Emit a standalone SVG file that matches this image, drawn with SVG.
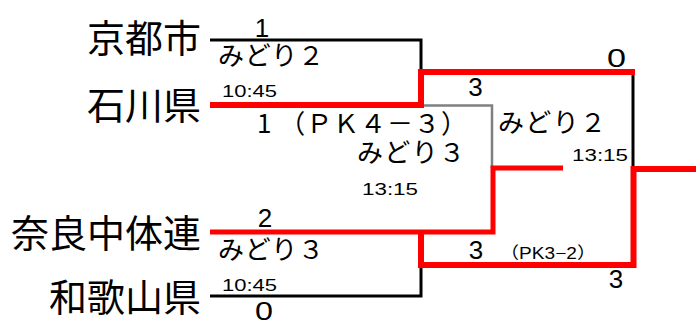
<svg xmlns="http://www.w3.org/2000/svg" width="696" height="322" viewBox="0 0 696 322">
<style>
.team{font-family:"Noto Sans CJK JP","Liberation Sans",sans-serif;font-size:38px;fill:#000;text-anchor:end}
.lbl{font-family:"Noto Sans CJK JP","Liberation Sans",sans-serif;font-size:26px;fill:#000}
.sc{font-family:"Liberation Sans","Noto Sans CJK JP",sans-serif;font-size:26px;fill:#000;text-anchor:middle}
.tm{font-family:"Liberation Sans","Noto Sans CJK JP",sans-serif;font-size:16.5px;fill:#000}
.blk{fill:none;stroke:#000;stroke-width:3}
.gry{fill:none;stroke:#808080;stroke-width:2.5}
.red{fill:none;stroke:#FF0000;stroke-width:6}
</style>
<rect width="696" height="322" fill="#fff"/>
<g id="connectors">
<path class="blk" d="M210,40 H421 V104"/>
<path class="blk" d="M210,296 H421 V265"/>
<path class="blk" d="M633,72 V168"/>
<path class="gry" d="M424,105.5 H492 V168"/>
<path class="red" d="M210,105 H421 V72 H635"/>
<path class="red" d="M210,232 H493 V168 H563" style="stroke-width:5"/>
<path class="red" d="M421,232 V265 H633.5 V169 H696"/>
</g>
<g id="team-kyoto"><text class="team" x="201" y="52">京都市</text></g>
<g id="team-ishikawa"><text class="team" x="201" y="119">石川県</text></g>
<g id="team-nara"><text class="team" x="201" y="247">奈良中体連</text></g>
<g id="team-wakayama"><text class="team" x="201" y="311">和歌山県</text></g>
<g id="match1">
<text class="sc" x="262" y="37">1</text>
<text class="lbl" x="218" y="65" textLength="106">みどり２</text>
<text class="tm" x="222" y="97" textLength="55" lengthAdjust="spacingAndGlyphs">10:45</text>
<text class="lbl" x="257" y="133" textLength="210">1 （ＰＫ４－３）</text>
</g>
<g id="match2">
<text class="sc" x="265" y="227">2</text>
<text class="lbl" x="218" y="259" textLength="106">みどり３</text>
<text class="tm" x="222" y="291" textLength="55" lengthAdjust="spacingAndGlyphs">10:45</text>
<text class="sc" x="264" y="320" textLength="18" lengthAdjust="spacingAndGlyphs">0</text>
</g>
<g id="semifinal">
<text class="sc" x="475.5" y="96">3</text>
<text class="lbl" x="357" y="162" textLength="108">みどり３</text>
<text class="tm" x="362" y="195" textLength="56" lengthAdjust="spacingAndGlyphs">13:15</text>
<text class="sc" x="476" y="259">3</text>
<text class="tm" x="500" y="259" font-size="15" textLength="96" lengthAdjust="spacingAndGlyphs">（PK3−2）</text>
</g>
<g id="final">
<text class="sc" x="616.5" y="67" textLength="19" lengthAdjust="spacingAndGlyphs">0</text>
<text class="lbl" x="498" y="132" textLength="108">みどり２</text>
<text class="tm" x="572" y="161" textLength="56" lengthAdjust="spacingAndGlyphs">13:15</text>
<text class="sc" x="616" y="288">3</text>
</g>
</svg>
